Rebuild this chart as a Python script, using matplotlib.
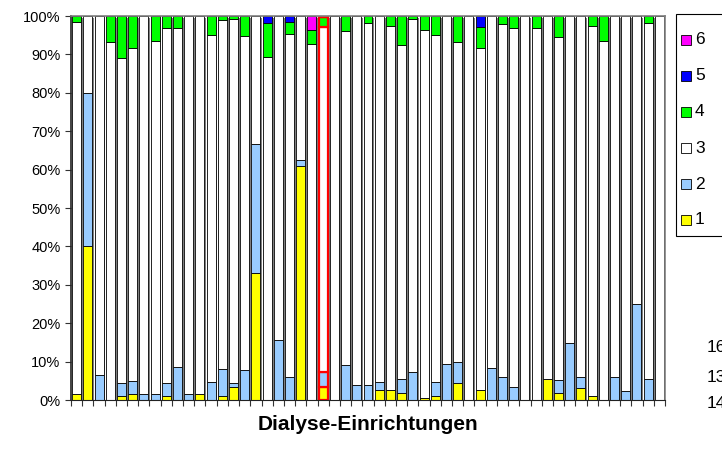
import matplotlib
matplotlib.use("Agg")
import matplotlib.pyplot as plt
from matplotlib.patches import Rectangle
import numpy as np

plt.rcParams['font.family'] = ['Liberation Sans', 'DejaVu Sans']

# share of each grade (1..6) per facility, in percent
grade1 = [1.5, 40, 0, 0, 1, 1.5, 0, 0, 1, 0, 0, 1.5, 0, 1, 3.4, 0, 33.2, 0, 0, 0,
          60.9, 0, 3.5, 0, 0, 0, 0, 2.5, 2.7, 1.9, 0, 0.5, 1, 0, 4.3, 0, 2.7, 0, 0, 0,
          0, 0, 5.5, 1.9, 0, 3.1, 1, 0, 0, 0, 0, 0, 0]
grade2 = [0, 40, 6.5, 0, 3.3, 3.5, 1.5, 1.5, 3.4, 8.7, 1.5, 0, 4.8, 7, 1.0, 7.7, 33.4, 0, 15.7, 6.1,
          1.5, 0, 3.9, 0, 9, 3.9, 3.9, 2.3, 0, 3.6, 7.4, 0, 3.8, 9.4, 5.5, 0, 0, 8.4, 5.9, 3.3,
          0, 0, 0, 3.3, 14.9, 2.9, 0, 0, 6, 2.3, 25, 5.5, 0]
grade3 = [97.0, 20, 93.5, 93.1, 84.8, 86.6, 98.5, 91.9, 92.6, 88.3, 98.5, 98.5, 90.2, 90.9, 94.7, 87.1, 33.4, 89.4, 84.3, 89.3,
          37.6, 92.8, 89.8, 100, 87.2, 96.1, 94.3, 95.2, 94.7, 86.9, 91.8, 95.9, 90.2, 90.6, 83.3, 100, 88.9, 91.6, 92.1, 93.5,
          100, 97, 94.5, 89.4, 85.1, 94.0, 96.4, 93.6, 94, 97.7, 75, 92.7, 100]
grade4 = [1.5, 0, 0, 6.9, 10.9, 8.4, 0, 6.6, 3.0, 3.0, 0, 0, 5.0, 1.1, 0.9, 5.2, 0, 8.7, 0, 3.0,
          0, 3.6, 2.5, 0, 3.8, 0, 1.8, 0, 2.6, 7.6, 0.8, 3.6, 5.0, 0, 6.9, 0, 5.6, 0, 2.0, 3.2,
          0, 3.0, 0, 5.4, 0, 0, 2.6, 6.4, 0, 0, 0, 1.8, 0]
grade5 = [0, 0, 0, 0, 0, 0, 0, 0, 0, 0, 0, 0, 0, 0, 0, 0, 0, 1.9, 0, 1.6,
          0, 0, 0, 0, 0, 0, 0, 0, 0, 0, 0, 0, 0, 0, 0, 0, 2.8, 0, 0, 0,
          0, 0, 0, 0, 0, 0, 0, 0, 0, 0, 0, 0, 0]
grade6 = [0, 0, 0, 0, 0, 0, 0, 0, 0, 0, 0, 0, 0, 0, 0, 0, 0, 0, 0, 0,
          0, 3.6, 0.3, 0, 0, 0, 0, 0, 0, 0, 0, 0, 0, 0, 0, 0, 0, 0, 0, 0,
          0, 0, 0, 0, 0, 0, 0, 0, 0, 0, 0, 0, 0]
highlight = 22  # facility drawn with red outline

series = [grade1, grade2, grade3, grade4, grade5, grade6]
labels = ['1', '2', '3', '4', '5', '6']
colors = ['#FFFF00', '#99CCFF', '#FFFFFF', '#00FF00', '#0000FF', '#FF00FF']

data = np.array(series, dtype=float)
data = data / data.sum(axis=0) * 100
n = data.shape[1]
x = np.arange(n)

fig = plt.figure(figsize=(7.22, 4.61), dpi=100)
ax = fig.add_axes([71 / 722, 61 / 461, 594 / 722, 384 / 461])

# grey shadow behind every bar
ax.bar(x + 0.17, data.sum(axis=0), width=0.8, bottom=-0.6, color='#808080',
       linewidth=0, zorder=1)

bottom = np.zeros(n)
for vals, col in zip(data, colors):
    edges = ['#FF0000' if i == highlight else 'black' for i in range(n)]
    lws = [1.6 if i == highlight else 0.6 for i in range(n)]
    ax.bar(x, vals, width=0.8, bottom=bottom, color=col, edgecolor=edges,
           linewidth=lws, zorder=2)
    bottom += vals

ax.set_xlim(-0.5, n - 0.5)
ax.set_ylim(0, 100)
ax.set_yticks(np.arange(0, 101, 10))
ax.set_yticklabels([f'{v}%' for v in range(0, 101, 10)], fontsize=10.5)
ax.set_xticks(np.arange(n + 1) - 0.5)
ax.set_xticklabels([])
ax.tick_params(axis='both', direction='out', length=4, width=0.8, color='#333333')
ax.set_xlabel('Dialyse-Einrichtungen', fontsize=15, fontweight='bold', labelpad=3)

ax.spines['left'].set_color('#222222')
ax.spines['left'].set_linewidth(1.2)
ax.spines['bottom'].set_color('#222222')
for s in ['top', 'right']:
    ax.spines[s].set_color('#808080')
    ax.spines[s].set_linewidth(1.2)

# legend box, running off the right edge of the picture
px = lambda v: v / 722
py = lambda v: 1 - v / 461
fig.add_artist(Rectangle((px(676), py(236)), px(80), 222 / 461, transform=fig.transFigure,
                         facecolor='white', edgecolor='black', linewidth=0.8, clip_on=False))
for k, lab in enumerate(labels[::-1]):
    col = colors[::-1][k]
    yc = 40 + k * 36
    fig.add_artist(Rectangle((px(681), py(yc + 5)), px(10), 10 / 461, transform=fig.transFigure,
                             facecolor=col, edgecolor='black', linewidth=0.6))
    fig.text(px(695), py(yc), lab, fontsize=12.5, va='center', ha='left')

# labels of a neighbouring chart, cut off at the border
for yy, t in zip([347, 377, 403], ['16', '13', '14']):
    fig.text(px(707), py(yy), t, fontsize=12.5, va='center', ha='left')

fig.savefig('out.png', dpi=100)
